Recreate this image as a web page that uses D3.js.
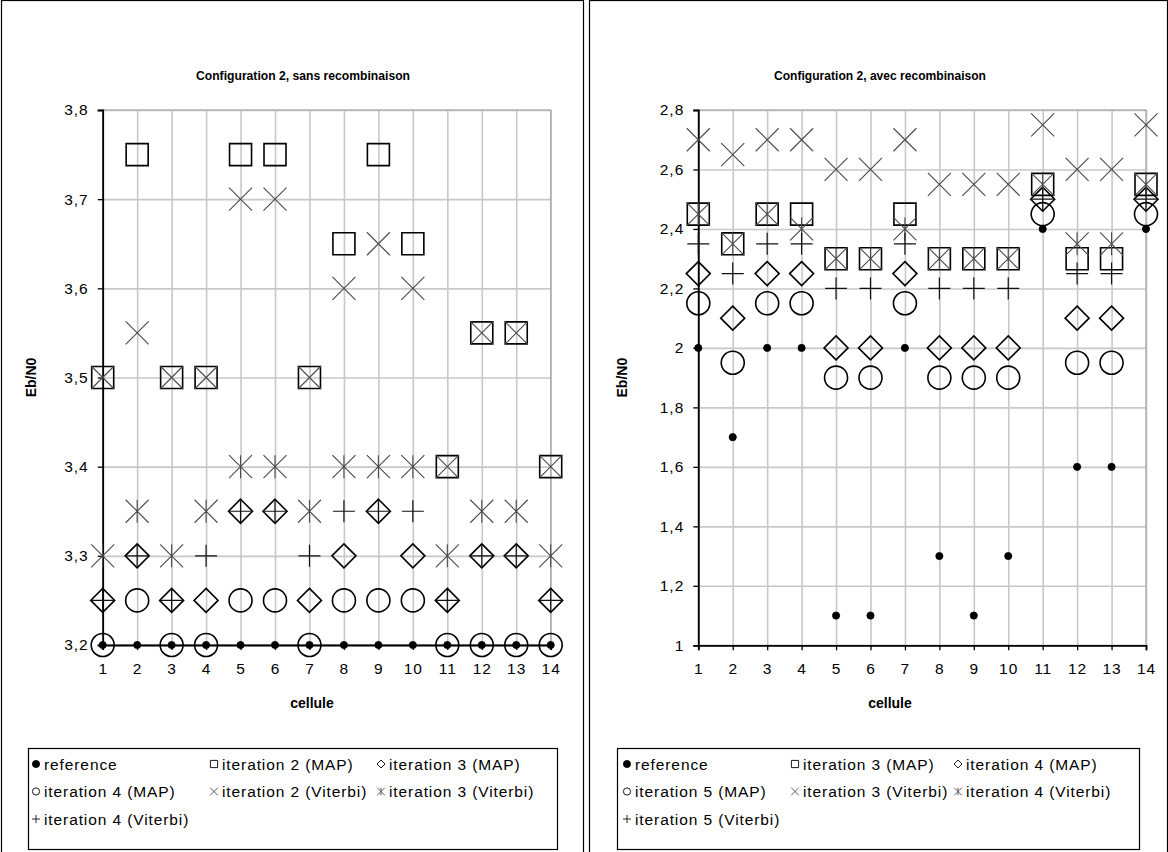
<!DOCTYPE html>
<html>
<head>
<meta charset="utf-8">
<script src="https://cdn.jsdelivr.net/npm/d3@7"></script>
<style>
body { margin: 0; background: #fff; }
svg { display: block; font-family: Arial, "Liberation Sans", sans-serif; }
</style>
</head>
<body>
<svg id="chart" width="1168" height="852"></svg>
<script>
// ---- data ----
const cells = [1, 2, 3, 4, 5, 6, 7, 8, 9, 10, 11, 12, 13, 14];

const leftTitle = "Configuration 2, sans recombinaison";
const leftYTicks = [3.2, 3.3, 3.4, 3.5, 3.6, 3.7, 3.8];
const leftNames = ["reference", "iteration 2 (MAP)", "iteration 3 (MAP)", "iteration 4 (MAP)",
                   "iteration 2 (Viterbi)", "iteration 3 (Viterbi)", "iteration 4 (Viterbi)"];
const leftReference   = [3.2, 3.2, 3.2, 3.2, 3.2, 3.2, 3.2, 3.2, 3.2, 3.2, 3.2, 3.2, 3.2, 3.2];
const leftIter2MAP    = [3.5, 3.75, 3.5, 3.5, 3.75, 3.75, 3.5, 3.65, 3.75, 3.65, 3.4, 3.55, 3.55, 3.4];
const leftIter3MAP    = [3.25, 3.3, 3.25, 3.25, 3.35, 3.35, 3.25, 3.3, 3.35, 3.3, 3.25, 3.3, 3.3, 3.25];
const leftIter4MAP    = [3.2, 3.25, 3.2, 3.2, 3.25, 3.25, 3.2, 3.25, 3.25, 3.25, 3.2, 3.2, 3.2, 3.2];
const leftIter2Vit    = [3.5, 3.55, 3.5, 3.5, 3.7, 3.7, 3.5, 3.6, 3.65, 3.6, 3.4, 3.55, 3.55, 3.4];
const leftIter3Vit    = [3.3, 3.35, 3.3, 3.35, 3.4, 3.4, 3.35, 3.4, 3.4, 3.4, 3.3, 3.35, 3.35, 3.3];
const leftIter4Vit    = [3.25, 3.3, 3.25, 3.3, 3.35, 3.35, 3.3, 3.35, 3.35, 3.35, 3.25, 3.3, 3.3, 3.25];

const rightTitle = "Configuration 2, avec recombinaison";
const rightYTicks = [1, 1.2, 1.4, 1.6, 1.8, 2, 2.2, 2.4, 2.6, 2.8];
const rightNames = ["reference", "iteration 3 (MAP)", "iteration 4 (MAP)", "iteration 5 (MAP)",
                    "iteration 3 (Viterbi)", "iteration 4 (Viterbi)", "iteration 5 (Viterbi)"];
const rightReference  = [2.0, 1.7, 2.0, 2.0, 1.1, 1.1, 2.0, 1.3, 1.1, 1.3, 2.4, 1.6, 1.6, 2.4];
const rightIter3MAP   = [2.45, 2.35, 2.45, 2.45, 2.3, 2.3, 2.45, 2.3, 2.3, 2.3, 2.55, 2.3, 2.3, 2.55];
const rightIter4MAP   = [2.25, 2.1, 2.25, 2.25, 2.0, 2.0, 2.25, 2.0, 2.0, 2.0, 2.5, 2.1, 2.1, 2.5];
const rightIter5MAP   = [2.15, 1.95, 2.15, 2.15, 1.9, 1.9, 2.15, 1.9, 1.9, 1.9, 2.45, 1.95, 1.95, 2.45];
const rightIter3Vit   = [2.7, 2.65, 2.7, 2.7, 2.6, 2.6, 2.7, 2.55, 2.55, 2.55, 2.75, 2.6, 2.6, 2.75];
const rightIter4Vit   = [2.45, 2.35, 2.45, 2.4, 2.3, 2.3, 2.4, 2.3, 2.3, 2.3, 2.55, 2.35, 2.35, 2.55];
const rightIter5Vit   = [2.35, 2.25, 2.35, 2.35, 2.2, 2.2, 2.35, 2.2, 2.2, 2.2, 2.5, 2.25, 2.25, 2.5];

const markerKinds = ["dot", "square", "diamond", "circle", "cross", "star", "plus"];
const yLabel = "Eb/N0";
const xLabel = "cellule";

// ---- helpers ----
const loc = d3.formatLocale({decimal: ",", thousands: ".", grouping: [3], currency: ["", ""]});
const fmt = loc.format("~g");
const FONT = "Arial, 'Liberation Sans', sans-serif";

function markerPath(kind, s) {
  const p = d3.path();
  if (kind === "square") { p.rect(-s, -s, 2 * s, 2 * s); }
  else if (kind === "diamond") { p.moveTo(0, -s); p.lineTo(s, 0); p.lineTo(0, s); p.lineTo(-s, 0); p.closePath(); }
  else if (kind === "circle") { p.moveTo(s, 0); p.arc(0, 0, s, 0, 2 * Math.PI); p.closePath(); }
  else if (kind === "cross") { p.moveTo(-s, -s); p.lineTo(s, s); p.moveTo(s, -s); p.lineTo(-s, s); }
  else if (kind === "star") { p.moveTo(-s, -s); p.lineTo(s, s); p.moveTo(s, -s); p.lineTo(-s, s); p.moveTo(0, -s); p.lineTo(0, s); }
  else if (kind === "plus") { p.moveTo(-s, 0); p.lineTo(s, 0); p.moveTo(0, -s); p.lineTo(0, s); }
  else if (kind === "dot") { p.moveTo(s, 0); p.arc(0, 0, s, 0, 2 * Math.PI); p.closePath(); }
  return p.toString();
}
const bigSize = {dot: 3.6, square: 11, diamond: 12, circle: 11.5, cross: 11.5, star: 11.5, plus: 11};
const smallSize = {dot: 3.6, square: 3.6, diamond: 4, circle: 3.6, cross: 3.8, star: 3.8, plus: 4};
function markerStyle(sel, kind, small) {
  if (kind === "dot") sel.attr("fill", "#000").attr("stroke", "#000").attr("stroke-width", 0.8);
  else if (kind === "cross" || kind === "star") sel.attr("fill", "none").attr("stroke", "#4a4a4a").attr("stroke-width", small ? 0.9 : 1.1);
  else if (kind === "plus") sel.attr("fill", "none").attr("stroke", "#111").attr("stroke-width", small ? 0.9 : 1.2);
  else sel.attr("fill", "none").attr("stroke", "#000").attr("stroke-width", small ? 0.9 : 1.6);
}

const svg = d3.select("#chart");

function drawChart(cfg) {
  const g = svg.append("g");
  // frame
  g.append("rect").attr("x", cfg.frameX + 0.5).attr("y", 0.5).attr("width", cfg.frameW).attr("height", 860)
    .attr("fill", "#fff").attr("stroke", "#000").attr("stroke-width", 1.2);

  const x = d3.scaleLinear().domain([cells[0], cells[cells.length - 1]]).range([cfg.px0, cfg.px1]);
  const y = d3.scaleLinear().domain([cfg.yTicks[0], cfg.yTicks[cfg.yTicks.length - 1]]).range([cfg.py0, cfg.py1]);

  // gridlines
  g.append("g").attr("transform", `translate(0,${cfg.py0})`)
    .call(d3.axisBottom(x).tickValues(cells).tickSize(-(cfg.py0 - cfg.py1)).tickFormat(""))
    .call(s => s.select(".domain").remove())
    .call(s => s.selectAll("line").attr("stroke", "#c8c8c8").attr("stroke-width", 1.6));
  g.append("g").attr("transform", `translate(${cfg.px0},0)`)
    .call(d3.axisLeft(y).tickValues(cfg.yTicks).tickSize(-(cfg.px1 - cfg.px0)).tickFormat(""))
    .call(s => s.select(".domain").remove())
    .call(s => s.selectAll("line").attr("stroke", "#c8c8c8").attr("stroke-width", 1.6));
  // plot border
  g.append("rect").attr("x", cfg.px0).attr("y", cfg.py1).attr("width", cfg.px1 - cfg.px0).attr("height", cfg.py0 - cfg.py1)
    .attr("fill", "none").attr("stroke", "#a8a8a8").attr("stroke-width", 1.2);

  // axes
  const ax = g.append("g").attr("transform", `translate(0,${cfg.py0})`)
    .call(d3.axisBottom(x).tickValues(cells).tickSize(5).tickPadding(13).tickFormat(d => d));
  const ay = g.append("g").attr("transform", `translate(${cfg.px0},0)`)
    .call(d3.axisLeft(y).tickValues(cfg.yTicks).tickSize(5).tickPadding(9).tickFormat(fmt));
  [ax, ay].forEach(a => {
    a.attr("font-size", null).attr("font-family", null);
    a.select(".domain").attr("stroke", "#000").attr("stroke-width", 1.8);
    a.selectAll(".tick line").attr("stroke", "#000").attr("stroke-width", 1.3);
    a.selectAll("text").attr("font-size", 15.5).attr("letter-spacing", 1).attr("fill", "#000").attr("font-family", FONT);
  });

  // titles
  g.append("text").attr("x", cfg.titleX).attr("y", 80).attr("text-anchor", "middle")
    .attr("font-size", 13.5).attr("font-weight", "bold").attr("font-family", FONT)
    .attr("textLength", cfg.titleW).attr("lengthAdjust", "spacingAndGlyphs").text(cfg.title);
  g.append("text").attr("transform", `translate(${cfg.yLabelX},${(cfg.py0 + cfg.py1) / 2}) rotate(-90)`)
    .attr("text-anchor", "middle").attr("font-size", 14).attr("font-weight", "bold").attr("font-family", FONT).text(yLabel);
  g.append("text").attr("x", cfg.xLabelX).attr("y", 708).attr("text-anchor", "middle")
    .attr("font-size", 14).attr("font-weight", "bold").attr("font-family", FONT).text(xLabel);

  // series
  cfg.series.forEach((vals, i) => {
    const kind = markerKinds[i];
    const sel = g.append("g").selectAll("path").data(vals).join("path")
      .attr("transform", (d, j) => `translate(${x(cells[j])},${y(d)})`)
      .attr("d", markerPath(kind, bigSize[kind]));
    markerStyle(sel, kind, false);
  });

  // legend
  const lg = g.append("g");
  lg.append("rect").attr("x", cfg.legX + 0.5).attr("y", 748.5).attr("width", cfg.legW).attr("height", 101)
    .attr("fill", "#fff").attr("stroke", "#000").attr("stroke-width", 1.2);
  cfg.names.forEach((name, i) => {
    const col = i % 3, row = Math.floor(i / 3);
    const mx = cfg.legX + cfg.legCols[col];
    const my = 764 + row * 27.5;
    const kind = markerKinds[i];
    const m = lg.append("path").attr("transform", `translate(${mx},${my})`).attr("d", markerPath(kind, smallSize[kind]));
    markerStyle(m, kind, true);
    lg.append("text").attr("x", mx + 8).attr("y", my + 5.5).attr("font-size", 15.5).attr("letter-spacing", 0.9)
      .attr("font-family", FONT).text(name);
  });
}

drawChart({
  frameX: 1, frameW: 582, px0: 102.7, px1: 550.7, py0: 645, py1: 110,
  yTicks: leftYTicks, title: leftTitle, titleX: 303, titleW: 214, yLabelX: 36, xLabelX: 312,
  names: leftNames, legX: 28, legW: 529, legCols: [8, 186, 353],
  series: [leftReference, leftIter2MAP, leftIter3MAP, leftIter4MAP, leftIter2Vit, leftIter3Vit, leftIter4Vit]
});
drawChart({
  frameX: 589, frameW: 578, px0: 698.3, px1: 1146, py0: 645.3, py1: 110,
  yTicks: rightYTicks, title: rightTitle, titleX: 880, titleW: 212, yLabelX: 627, xLabelX: 890,
  names: rightNames, legX: 617, legW: 522, legCols: [10, 178, 341],
  series: [rightReference, rightIter3MAP, rightIter4MAP, rightIter5MAP, rightIter3Vit, rightIter4Vit, rightIter5Vit]
});
</script>
</body>
</html>
